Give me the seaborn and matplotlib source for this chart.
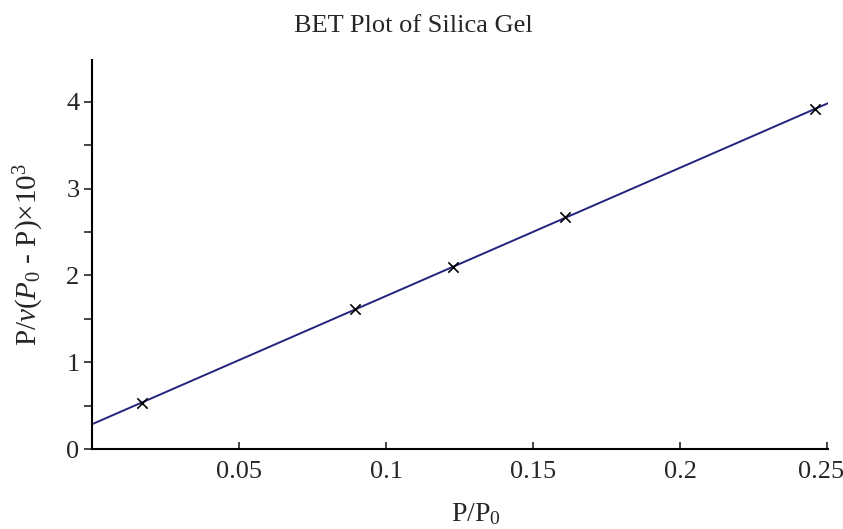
import numpy as np
import pandas as pd
import matplotlib
matplotlib.use("Agg")
import matplotlib.pyplot as plt
import matplotlib.transforms as mtransforms
from matplotlib.ticker import MultipleLocator, FixedLocator
import seaborn as sns

# Relative pressure and BET transform values for silica gel
rel_pressure = [0.0169, 0.0895, 0.1228, 0.161, 0.2459]
bet_value = [0.527, 1.614, 2.10, 2.67, 3.91]

x_ticks = [0.05, 0.1, 0.15, 0.2, 0.25]
x_tick_labels = ["0.05", "0.1", "0.15", "0.2", "0.25"]
y_ticks = [0, 1, 2, 3, 4]

sns.set_style("ticks")
plt.rcParams["font.family"] = ["Liberation Serif", "DejaVu Serif"]
plt.rcParams["mathtext.fontset"] = "custom"
plt.rcParams["mathtext.rm"] = "Liberation Serif"
plt.rcParams["mathtext.it"] = "Liberation Serif:italic"

df = pd.DataFrame({"x": rel_pressure, "y": bet_value})

fig = plt.figure(figsize=(8.43, 5.29), dpi=100)
ax = fig.add_axes([92 / 843, 1 - 449 / 529, (828 - 92) / 843, (449 - 60) / 529])

xmax, ymax = 0.2503, 4.48
ax.set_xlim(0, xmax)
ax.set_ylim(0, ymax)

# Least-squares BET line across the plotted range
slope, intercept = np.polyfit(rel_pressure, bet_value, 1)
fit = pd.DataFrame({"x": [0.0, xmax]})
fit["y"] = intercept + slope * fit["x"]
sns.lineplot(data=fit, x="x", y="y", ax=ax, color="#23237e", linewidth=1.4)

sns.scatterplot(data=df, x="x", y="y", ax=ax, marker="x", color="black",
                s=55, linewidth=1.2, zorder=5)

sns.despine(ax=ax)
for side in ("left", "bottom"):
    ax.spines[side].set_linewidth(1.5)
    ax.spines[side].set_color("black")

ax.xaxis.set_major_locator(FixedLocator(x_ticks))
ax.set_xticklabels(x_tick_labels)
ax.yaxis.set_major_locator(FixedLocator(y_ticks))
ax.yaxis.set_minor_locator(MultipleLocator(0.5))
ax.tick_params(axis="x", direction="in", length=5, width=1.2, pad=9, labelsize=19)
ax.tick_params(axis="y", which="both", direction="out", length=6, width=1.2, pad=3, labelsize=19)

# Keep the last x tick label inside the figure edge
last = ax.get_xticklabels()[-1]
last.set_transform(last.get_transform() + mtransforms.ScaledTranslation(-6 / 100, 0, fig.dpi_scale_trans))

ax.set_xlabel(r"P/P$_0$", fontsize=20)
ax.xaxis.set_label_coords(0.522, -0.135)
ax.set_ylabel(r"P/$\mathit{v}$($\mathit{P}_0$ - P)×10$^3$", fontsize=21)
ax.yaxis.set_label_coords(-0.062, 0.5)
fig.text(413 / 843, 1 - 26 / 529, "BET Plot of Silica Gel", ha="center", va="center", fontsize=19)

fig.savefig("out.png", dpi=100)
